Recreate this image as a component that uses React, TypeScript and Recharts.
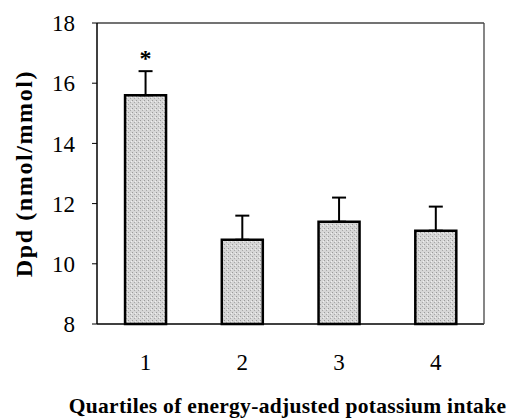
import React from "react";
import {
    BarChart,
    Bar,
    XAxis,
    YAxis,
    ErrorBar,
    LabelList,
} from "recharts";

// values
const quartiles = ["1", "2", "3", "4"];
const dpdMean = [15.6, 10.8, 11.4, 11.1];
const dpdSE = [0.8, 0.8, 0.8, 0.8];
const sigMarks = ["*", "", "", ""];
const yTicks = [8, 10, 12, 14, 16, 18];

const chartData = quartiles.map((q, i) => ({
    q,
    dpd: dpdMean[i],
    err: [0, dpdSE[i]],
    sig: sigMarks[i],
}));

const serif = "'Liberation Serif', 'Times New Roman', serif";

export default function App() {
    return (
        <div style={{ position: "absolute", left: 0, top: 0, background: "#fff" }}>
            <BarChart
                width={516}
                height={420}
                data={chartData}
                margin={{ top: 22, right: 31, left: 0, bottom: 0 }}
                barCategoryGap="29%"
            >
                <defs>
                    <pattern id="stipple" width="4" height="4" patternUnits="userSpaceOnUse">
                        <rect width="4" height="4" fill="#d6d6d6" />
                        <rect x="0" y="0" width="1" height="1" fill="#9a9a9a" />
                        <rect x="2" y="2" width="1" height="1" fill="#a8a8a8" />
                        <rect x="3" y="1" width="1" height="1" fill="#f0f0f0" />
                    </pattern>
                </defs>
                <XAxis
                    dataKey="q"
                    height={96}
                    axisLine={{ stroke: "#000", strokeWidth: 1.5 }}
                    tickLine={false}
                    tickSize={0}
                    tickMargin={30}
                    tick={{ fill: "#000", fontSize: 23, fontFamily: serif }}
                    label={{
                        content: (props: any) => {
                            const vb = props.viewBox;
                            return (
                                <text
                                    x={vb.x + vb.width / 2 - 3}
                                    y={vb.y + 89}
                                    textAnchor="middle"
                                    fontFamily={serif}
                                    fontWeight="bold"
                                    fontSize={21.5}
                                    letterSpacing={0.3}
                                    fill="#000"
                                >
                                    Quartiles of energy-adjusted potassium intake
                                </text>
                            );
                        },
                    }}
                />
                {/* top edge of the frame: a numeric axis needs no series */}
                <XAxis
                    xAxisId="top"
                    type="number"
                    orientation="top"
                    domain={[0, 1]}
                    ticks={[0, 1]}
                    height={1}
                    tick={false}
                    tickLine={false}
                    axisLine={{ stroke: "#444", strokeWidth: 1.3 }}
                />
                <YAxis
                    domain={[8, 18]}
                    ticks={yTicks}
                    width={97}
                    axisLine={{ stroke: "#000", strokeWidth: 1.5 }}
                    tickLine={{ stroke: "#000" }}
                    tickSize={5}
                    tickMargin={17}
                    tick={{ fill: "#000", fontSize: 23, fontFamily: serif }}
                    label={{
                        content: (props: any) => {
                            const vb = props.viewBox;
                            const cx = vb.x + 24;
                            const cy = vb.y + vb.height / 2;
                            return (
                                <text
                                    x={cx}
                                    y={cy}
                                    transform={`rotate(-90 ${cx} ${cy})`}
                                    textAnchor="middle"
                                    dominantBaseline="central"
                                    fontFamily={serif}
                                    fontWeight="bold"
                                    fontSize={24}
                                    letterSpacing={1.6}
                                    fill="#000"
                                >
                                    Dpd (nmol/mmol)
                                </text>
                            );
                        },
                    }}
                />
                {/* right edge of the frame */}
                <YAxis
                    yAxisId="right"
                    type="number"
                    orientation="right"
                    domain={[8, 18]}
                    ticks={yTicks}
                    width={1}
                    tick={false}
                    tickLine={false}
                    axisLine={{ stroke: "#444", strokeWidth: 1.3 }}
                />
                <Bar
                    dataKey="dpd"
                    fill="url(#stipple)"
                    stroke="#000"
                    strokeWidth={2.5}
                    isAnimationActive={false}
                >
                    <ErrorBar
                        dataKey="err"
                        direction="y"
                        width={7}
                        stroke="#000"
                        strokeWidth={2}
                    />
                    <LabelList
                        dataKey="sig"
                        content={(props: any) => {
                            const { x, y, width, value } = props;
                            if (!value) return null;
                            return (
                                <text
                                    x={x + width / 2}
                                    y={y - 29}
                                    textAnchor="middle"
                                    fontFamily={serif}
                                    fontWeight="bold"
                                    fontSize={24}
                                    fill="#000"
                                >
                                    {value}
                                </text>
                            );
                        }}
                    />
                </Bar>
            </BarChart>
        </div>
    );
}
